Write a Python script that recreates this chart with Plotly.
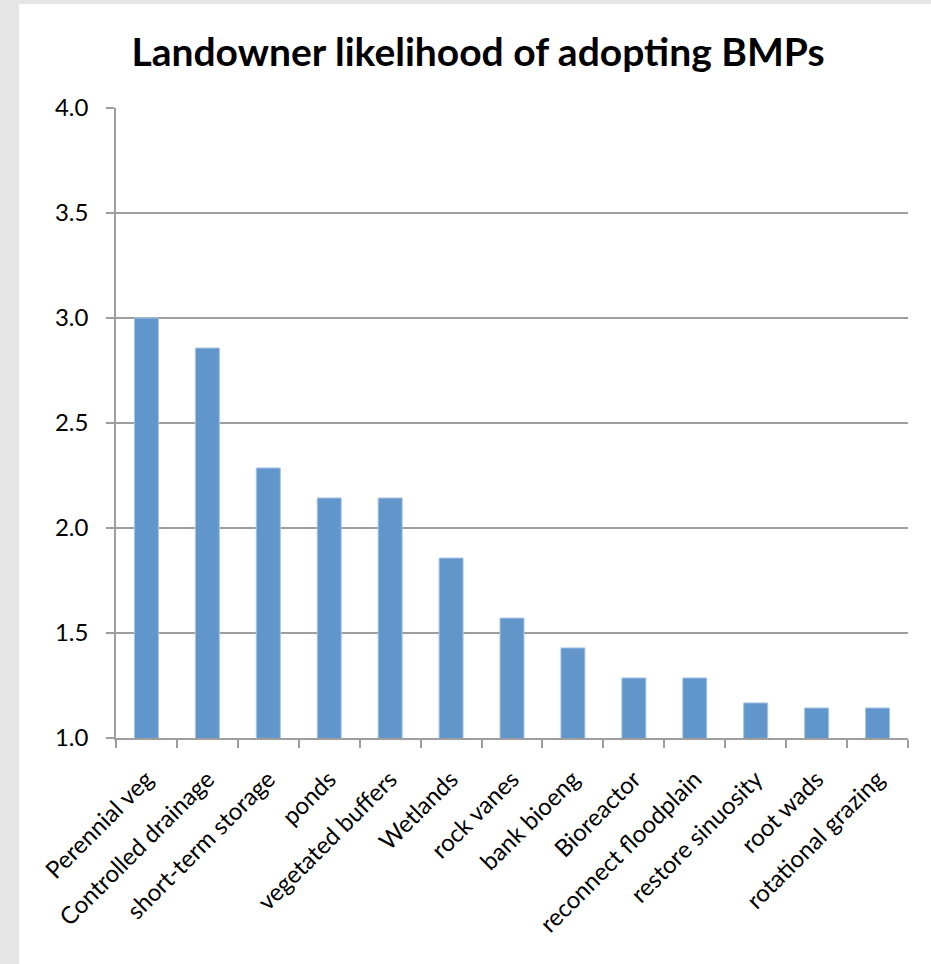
import plotly.graph_objects as go

categories = ["Perennial veg", "Controlled drainage", "short-term storage", "ponds",
              "vegetated buffers", "Wetlands", "rock vanes", "bank bioeng", "Bioreactor",
              "reconnect floodplain", "restore sinuosity", "root wads", "rotational grazing"]
values = [3.0, 2.857, 2.286, 2.143, 2.143, 1.857, 1.571, 1.429, 1.286, 1.286, 1.167, 1.143, 1.143]
y_ticks = [1.0, 1.5, 2.0, 2.5, 3.0, 3.5, 4.0]

W, H = 931, 964
L, R, T, B = 116, 908, 108, 738

fig = go.Figure(go.Bar(
    x=categories, y=values,
    marker=dict(color="#6096CA", line=dict(color="#A9C4E4", width=1)),
))

pw, ph = R - L, B - T
fig.add_shape(type="rect", xref="paper", yref="paper", layer="below",
              x0=(19 - L) / pw, x1=(W + 5 - L) / pw,
              y0=(B - (H + 5)) / ph, y1=(B - 4) / ph,
              fillcolor="white", line=dict(width=0))

fig.update_layout(
    width=W, height=H,
    margin=dict(l=L, r=W - R, t=T, b=H - B),
    paper_bgcolor="#E6E6E6", plot_bgcolor="rgba(0,0,0,0)",
    font=dict(family="Lato, Open Sans, sans-serif", color="#000000"),
    title=dict(text="<b>Landowner likelihood of adopting BMPs</b>",
               x=478 / W, xanchor="center", y=1 - 52 / H, yanchor="middle",
               font=dict(size=39, family="Lato, Open Sans, sans-serif")),
    bargap=0.606,
    showlegend=False,
)
fig.update_xaxes(
    showline=True, linecolor="#9E9E9E", linewidth=1.5,
    ticks="outside", tickson="boundaries", ticklen=8, tickcolor="#9E9E9E", tickwidth=1.5,
    tickangle=-45, tickfont=dict(size=24), showgrid=False, ticklabelstandoff=16,
)
fig.update_yaxes(
    range=[1, 4], tickvals=y_ticks, ticktext=[f"{v:.1f}" for v in y_ticks],
    showline=True, linecolor="#9E9E9E", linewidth=1.5,
    ticks="outside", ticklen=8, tickcolor="#9E9E9E", tickwidth=1.5,
    showgrid=True, gridcolor="#9E9E9E", gridwidth=1.5,
    tickfont=dict(size=24), ticklabelstandoff=13, zeroline=False,
)

fig.write_html("out.html")
